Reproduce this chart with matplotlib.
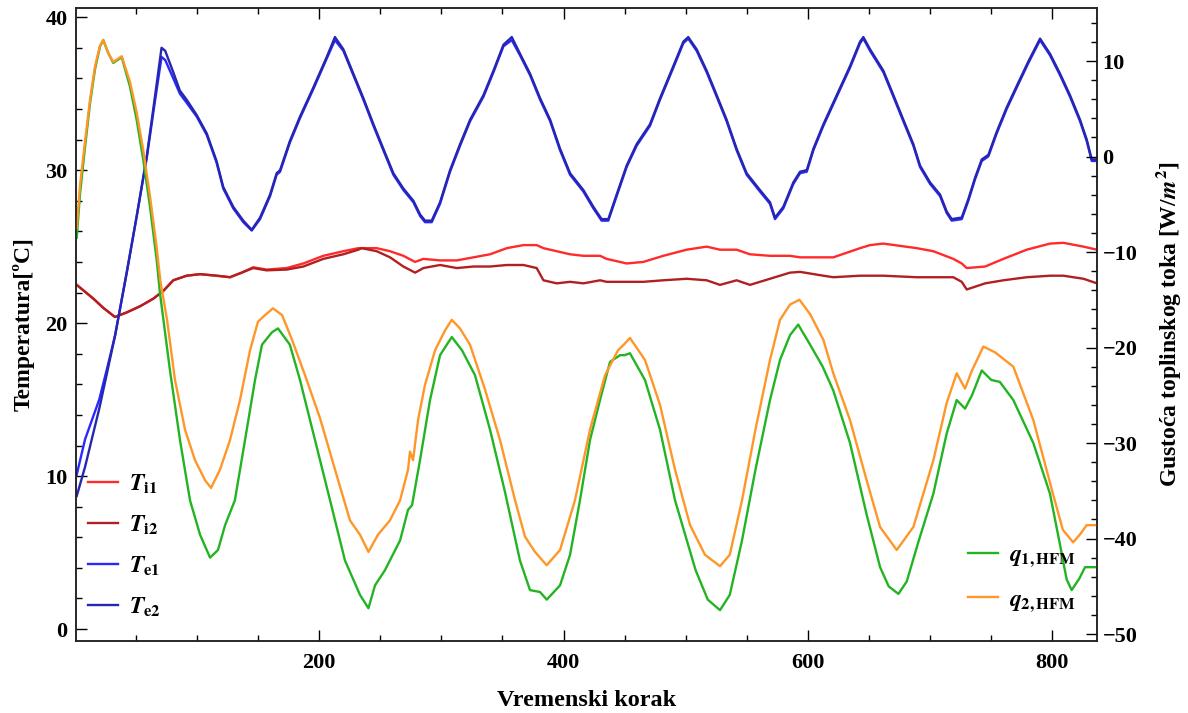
import matplotlib
matplotlib.use("Agg")
import matplotlib.pyplot as plt
from matplotlib.ticker import MultipleLocator

plt.rcParams["font.family"] = ["Liberation Serif", "DejaVu Serif"]
plt.rcParams["font.weight"] = "bold"
plt.rcParams["mathtext.fontset"] = "stix"

# time steps / temperatures (left axis, degC)
te_x = [1.6, 8.4, 20, 26, 33, 42.5, 50.7, 58.9, 65.6, 71, 74, 80.6, 86, 91.6, 99.8,
        108, 116, 121.5, 129.7, 137.9, 144.8, 151.6, 159.8, 165.2, 168, 176, 184.3,
        195.2, 206.2, 212.9, 219.8, 228, 236.2, 244.4, 252.5, 260.7, 268.9, 277.1,
        282.6, 286.6, 292.1, 298.9, 307.1, 315.3, 323.5, 334.4, 342.6, 350.8, 357.6,
        364.4, 372.6, 380.8, 389, 397.1, 405.3, 416.2, 424.4, 431.1, 436.6, 443.4,
        451.6, 459.8, 470.7, 478.9, 489.8, 498, 502, 508.9, 517.1, 525.3, 533.4,
        541.6, 549.8, 560.7, 568.9, 573, 579.8, 588, 593.5, 599, 604.4, 612.6, 623.5,
        634.4, 642.6, 645.3, 650.8, 661.7, 669.9, 678, 686.2, 691.7, 699.9, 708.1,
        713.5, 717.6, 725.8, 731.2, 736.7, 742.2, 747.6, 754.4, 762.6, 770.8, 780.3,
        789.9, 798.1, 806.3, 814.4, 822.6, 828.1, 832.2, 836.5]
te1 = [10.1, 12.4, 15.0, 16.9, 19.2, 23.3, 27.0, 30.8, 34.5, 37.4, 37.2, 36.0, 35.0,
       34.4, 33.5, 32.3, 30.5, 28.8, 27.5, 26.6, 26.05, 26.8, 28.3, 29.7, 29.9, 31.8,
       33.4, 35.3, 37.3, 38.5, 37.8, 36.2, 34.6, 32.9, 31.3, 29.7, 28.7, 27.9, 27.0,
       26.6, 26.6, 27.8, 29.9, 31.6, 33.2, 34.8, 36.4, 38.1, 38.5, 37.5, 36.2, 34.6,
       33.2, 31.3, 29.7, 28.6, 27.5, 26.7, 26.7, 28.3, 30.2, 31.6, 32.9, 34.6, 36.7,
       38.3, 38.6, 37.8, 36.4, 34.8, 33.2, 31.3, 29.7, 28.6, 27.8, 26.8, 27.5, 29.1,
       29.8, 29.9, 31.3, 32.9, 34.8, 36.7, 38.3, 38.6, 37.8, 36.4, 34.8, 33.2, 31.6,
       30.2, 29.1, 28.3, 27.2, 26.7, 26.8, 28.0, 29.4, 30.6, 30.9, 32.4, 34.0, 35.4,
       37.0, 38.5, 37.5, 36.2, 34.8, 33.2, 31.9, 30.6, 30.6]
te2 = [8.7, 10.6, 14.4, 16.6, 19.2, 23.3, 27.0, 30.9, 34.8, 38.0, 37.8, 36.4, 35.2,
       34.6, 33.6, 32.4, 30.6, 28.9, 27.6, 26.7, 26.1, 26.9, 28.4, 29.8, 30.0, 31.9,
       33.5, 35.4, 37.4, 38.7, 37.9, 36.3, 34.7, 33.0, 31.4, 29.8, 28.8, 28.0, 27.1,
       26.7, 26.7, 27.9, 30.0, 31.7, 33.3, 34.9, 36.5, 38.2, 38.7, 37.6, 36.3, 34.7,
       33.3, 31.4, 29.8, 28.7, 27.6, 26.8, 26.8, 28.4, 30.3, 31.7, 33.0, 34.7, 36.8,
       38.4, 38.7, 37.9, 36.5, 34.9, 33.3, 31.4, 29.8, 28.7, 27.9, 26.9, 27.6, 29.2,
       29.9, 30.0, 31.4, 33.0, 34.9, 36.8, 38.4, 38.7, 37.9, 36.5, 34.9, 33.3, 31.7,
       30.3, 29.2, 28.4, 27.3, 26.8, 26.9, 28.1, 29.5, 30.7, 31.0, 32.5, 34.1, 35.5,
       37.1, 38.6, 37.6, 36.3, 34.9, 33.3, 32.0, 30.7, 30.7]

ti_x = [1.6, 15.2, 23.3, 32.9, 42.5, 53.4, 64.3, 72.4, 80.6, 91.6, 102.5, 116.1, 127,
        136.6, 146, 157, 173.4, 187, 203.4, 219.7, 232, 234.8, 247.1, 258, 268.9,
        278.5, 285.3, 298.9, 312.6, 326.2, 339.8, 353.5, 367.1, 378, 383.5, 394.4,
        405.3, 416.2, 429.9, 435.2, 451.6, 465.2, 481.6, 500.7, 517.1, 528, 541.6,
        552.5, 568.9, 585.3, 593.5, 612.6, 620.7, 642.6, 650.8, 661.6, 689, 702.6,
        718.9, 725.8, 729.9, 745, 759.9, 779, 798.1, 809, 825.4, 836.5]
ti1 = [22.5, 21.6, 21.0, 20.4, 20.7, 21.1, 21.6, 22.1, 22.8, 23.1, 23.2, 23.1, 23.0,
       23.3, 23.65, 23.5, 23.6, 23.9, 24.4, 24.7, 24.9, 24.9, 24.9, 24.7, 24.4, 24.0,
       24.2, 24.1, 24.1, 24.3, 24.5, 24.9, 25.1, 25.1, 24.9, 24.7, 24.5, 24.4, 24.4,
       24.2, 23.9, 24.0, 24.4, 24.8, 25.0, 24.8, 24.8, 24.5, 24.4, 24.4, 24.3, 24.3,
       24.3, 24.9, 25.1, 25.2, 24.9, 24.7, 24.2, 23.9, 23.6, 23.7, 24.2, 24.8, 25.2,
       25.25, 25.0, 24.8]
ti2 = [22.5, 21.6, 21.0, 20.4, 20.7, 21.1, 21.6, 22.1, 22.8, 23.1, 23.2, 23.1, 23.0,
       23.3, 23.6, 23.45, 23.5, 23.7, 24.2, 24.5, 24.8, 24.9, 24.7, 24.3, 23.7, 23.3,
       23.6, 23.8, 23.6, 23.7, 23.7, 23.8, 23.8, 23.6, 22.8, 22.6, 22.7, 22.6, 22.8,
       22.7, 22.7, 22.7, 22.8, 22.9, 22.8, 22.5, 22.8, 22.5, 22.9, 23.3, 23.35, 23.1,
       23.0, 23.1, 23.1, 23.1, 23.0, 23.0, 23.0, 22.7, 22.2, 22.6, 22.8, 23.0, 23.1,
       23.1, 22.9, 22.6]

# heat flux density (right axis, W/m2)
q1_x = [1.6, 4.3, 8.4, 12.5, 16.5, 20.6, 23.3, 27.5, 31.5, 38.4, 45.2, 50.7, 56.1,
        61.6, 67, 69.7, 77.9, 86.1, 94.3, 102.5, 110.7, 117.2, 123, 131, 139.3, 147.5,
        153.2, 161.4, 166.3, 176, 184.3, 196.6, 208.9, 221.1, 233.4, 240.3, 245.7,
        253.9, 266.2, 272.7, 276, 282.5, 290.7, 298.9, 307, 308.5, 316.9, 327.5, 339.8,
        352, 364.3, 372.5, 380.7, 386.2, 397.1, 405.3, 413.4, 421.6, 429.8, 438, 446.2,
        450, 454.3, 466.6, 478.9, 491.2, 508, 518, 528, 536, 546, 557, 568.9, 577.1,
        585.3, 592, 601.7, 612, 620.7, 634.4, 648, 659, 666, 674, 680.8, 690, 702.6,
        713.5, 721.7, 728.5, 734.2, 742.2, 750, 757, 768, 784.4, 798, 806, 811.7,
        815.8, 822, 826.7, 836.5]
q1 = [-8.5, -3.9, 1.0, 5.6, 9.1, 11.5, 12.2, 10.8, 9.8, 10.4, 7.3, 3.8, -0.4, -5.3,
      -10.8, -14.3, -22.4, -29.7, -36.0, -39.6, -42.0, -41.2, -38.6, -36.0, -29.7,
      -23.4, -19.7, -18.4, -18.0, -19.7, -23.4, -29.7, -36.0, -42.3, -45.9, -47.3,
      -44.9, -43.3, -40.2, -37.0, -36.5, -31.8, -25.5, -20.8, -19.2, -18.9, -20.3,
      -22.9, -28.6, -35.1, -42.3, -45.4, -45.6, -46.4, -44.9, -41.7, -36.0, -29.7,
      -25.5, -21.5, -20.8, -20.8, -20.6, -23.4, -28.6, -36.0, -43.3, -46.4, -47.5,
      -45.9, -40.2, -32.8, -25.5, -21.3, -18.7, -17.6, -19.7, -22.0, -24.5, -30.0,
      -37.5, -43.0, -45.0, -45.8, -44.5, -40.5, -35.3, -29.0, -25.5, -26.4, -25.0,
      -22.4, -23.4, -23.6, -25.5, -30.0, -35.3, -40.5, -44.3, -45.4, -44.2, -43.0,
      -43.0]
q2_x = [1.6, 4.3, 8.4, 12.5, 16.5, 20.6, 23.3, 27.5, 31.5, 38.4, 45.2, 50.7, 56.1,
        61.6, 67, 70, 75.5, 82, 90.2, 98.4, 106.6, 111.5, 118.8, 127, 135.2, 143.4,
        149.9, 155.7, 162.2, 169.6, 177.8, 188.4, 200.7, 213, 225.2, 233.4, 240.3,
        248.1, 257.9, 266.2, 272.7, 274.3, 276.8, 280.9, 286.6, 294.8, 303, 308.5,
        315.2, 323.4, 335.7, 348, 360.3, 368.4, 376.6, 386.2, 397.1, 409.3, 421.6,
        433.9, 444.5, 450, 454.3, 466.6, 478.9, 491.2, 503.5, 515.7, 528, 536, 546, 557,
        568.9, 577.1, 585.3, 593, 601.7, 612.6, 620.7, 634.4, 648, 659, 672.6, 686.2,
        702.6, 713.5, 721.7, 728.5, 734.2, 743.5, 753, 768, 784.4, 800.4, 808.6, 817,
        823, 828, 836.5]
q2 = [-7.5, -3.0, 1.6, 6.0, 9.4, 11.6, 12.2, 10.8, 9.9, 10.5, 7.8, 4.6, 0.6, -4.2,
      -9.5, -13.0, -17.1, -23.4, -28.6, -31.8, -33.9, -34.7, -32.8, -29.7, -25.5,
      -20.3, -17.3, -16.6, -15.9, -16.6, -19.2, -22.9, -27.4, -32.8, -38.1, -39.6,
      -41.4, -39.6, -38.1, -36.0, -32.8, -30.9, -31.8, -27.6, -23.9, -20.3, -18.2,
      -17.1, -18.0, -19.7, -24.4, -29.7, -36.0, -39.8, -41.4, -42.8, -41.2, -36.0,
      -28.6, -22.9, -20.3, -19.6, -19.0, -21.3, -26.0, -32.8, -38.6, -41.7, -42.9,
      -41.7, -36.0, -28.6, -21.3, -17.1, -15.5, -15.0, -16.5, -19.2, -22.7, -27.6,
      -33.9, -38.8, -41.2, -38.8, -31.8, -25.8, -22.7, -24.3, -22.4, -19.9, -20.5,
      -22.0, -27.6, -35.3, -39.1, -40.4, -39.5, -38.6, -38.6]

fig = plt.figure(figsize=(11.88, 7.13), dpi=100)
ax = fig.add_axes([76 / 1188, 72 / 713, 1021 / 1188, 633 / 713])
ax2 = ax.twinx()

lw = 1.7
h_ti1, = ax.plot(ti_x, ti1, color="#ff2a2a", lw=lw, label=r"$T_{\mathbf{i1}}$")
h_ti2, = ax.plot(ti_x, ti2, color="#b02020", lw=lw, label=r"$T_{\mathbf{i2}}$")
h_te1, = ax.plot(te_x, te1, color="#2828ff", lw=lw, label=r"$T_{\mathbf{e1}}$")
h_te2, = ax.plot(te_x, te2, color="#2626b0", lw=lw, label=r"$T_{\mathbf{e2}}$")
h_q1, = ax2.plot(q1_x, q1, color="#22b422", lw=lw, label=r"$q_{\mathbf{1,HFM}}$")
h_q2, = ax2.plot(q2_x, q2, color="#ff9628", lw=lw, label=r"$q_{\mathbf{2,HFM}}$")

ax.set_xlim(1, 836.5)
ax.set_ylim(-0.78, 40.6)
ax2.set_ylim(-50.73, 15.55)

ax.xaxis.set_major_locator(MultipleLocator(200))
ax.xaxis.set_minor_locator(MultipleLocator(50))
ax.yaxis.set_major_locator(MultipleLocator(10))
ax.yaxis.set_minor_locator(MultipleLocator(2))
ax2.yaxis.set_major_locator(MultipleLocator(10))
ax2.yaxis.set_minor_locator(MultipleLocator(2))

for a in (ax, ax2):
    a.tick_params(which="major", direction="in", length=8, width=1, labelsize=16)
    a.tick_params(which="minor", direction="in", length=4, width=1)
    for s in a.spines.values():
        s.set_linewidth(1.1)
        s.set_color("#222222")
ax.tick_params(axis="x", which="both", top=True, pad=9)
ax.tick_params(axis="y", which="both", right=False, pad=6)
ax2.tick_params(axis="y", which="both", pad=4)
ax2.set_yticklabels([f"{int(v)}" if v >= 0 else "\u2212" + f"{int(-v)}"
                     for v in ax2.get_yticks()])

ax.set_xlabel("Vremenski korak", fontsize=17.5, fontweight="bold", labelpad=12)
ax.set_ylabel("Temperatura[ºC]", fontsize=17, fontweight="bold", labelpad=8)
ax2.set_ylabel(r"Gustoća toplinskog toka [W/$m^2$]", fontsize=17,
               fontweight="bold", labelpad=12)

leg1 = ax2.legend(handles=[h_ti1, h_ti2, h_te1, h_te2], loc="lower left",
                  bbox_to_anchor=(12 / 1021, 22 / 633), frameon=False, fontsize=17,
                  handlelength=1.27, handletextpad=0.45, labelspacing=0.75,
                  borderpad=0, borderaxespad=0)
ax2.add_artist(leg1)
ax2.legend(handles=[h_q1, h_q2], loc="lower left",
           bbox_to_anchor=(892 / 1021, 27 / 633), frameon=False, fontsize=17,
           handlelength=1.27, handletextpad=0.45, labelspacing=0.85,
           borderpad=0, borderaxespad=0)

fig.savefig("out.png", dpi=100)
